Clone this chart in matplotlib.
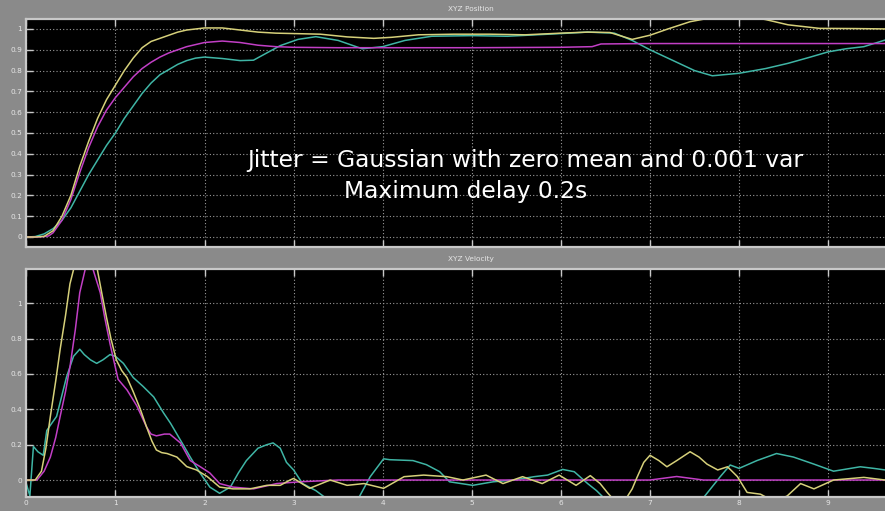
import matplotlib
matplotlib.use("Agg")
import matplotlib.pyplot as plt

# ---------------- data ----------------
pos_yellow_t = [0, 0.1, 0.2, 0.3, 0.4, 0.5, 0.6, 0.7, 0.8, 0.9, 1.0, 1.1, 1.2, 1.3, 1.4, 1.5, 1.6, 1.7, 1.8,
                2.0, 2.2, 2.4, 2.6, 2.8, 3.0, 3.3, 3.6, 3.9, 4.1, 4.4, 4.8, 5.2, 5.6, 6.0, 6.3, 6.55, 6.8,
                7.0, 7.2, 7.45, 7.7, 7.9, 8.1, 8.3, 8.55, 8.9, 9.3, 9.7]
pos_yellow_y = [0, 0.0, 0.003, 0.03, 0.1, 0.2, 0.34, 0.46, 0.57, 0.66, 0.73, 0.8, 0.86, 0.91, 0.94, 0.955, 0.97,
                0.985, 0.995, 1.005, 1.005, 0.995, 0.985, 0.98, 0.978, 0.975, 0.962, 0.955, 0.96, 0.972, 0.975,
                0.975, 0.972, 0.98, 0.985, 0.983, 0.95, 0.97, 1.0, 1.035, 1.055, 1.065, 1.06, 1.045, 1.02,
                1.003, 1.002, 1.0]

pos_magenta_t = [0, 0.15, 0.25, 0.3, 0.4, 0.5, 0.6, 0.7, 0.8, 0.9, 1.0, 1.1, 1.2, 1.3, 1.4, 1.5, 1.6, 1.8,
                 2.0, 2.2, 2.4, 2.6, 2.8, 3.0, 3.5, 4.0, 5.0, 6.0, 6.35, 6.45, 7.0, 8.0, 9.0, 9.7]
pos_magenta_y = [0, 0, 0.005, 0.02, 0.08, 0.18, 0.31, 0.43, 0.53, 0.61, 0.67, 0.72, 0.77, 0.81, 0.84, 0.865,
                 0.885, 0.915, 0.935, 0.942, 0.935, 0.922, 0.915, 0.912, 0.91, 0.91, 0.91, 0.912, 0.915,
                 0.928, 0.93, 0.93, 0.93, 0.93]

pos_cyan_t = [0, 0.1, 0.2, 0.3, 0.4, 0.5, 0.6, 0.7, 0.8, 0.9, 1.0, 1.1, 1.2, 1.3, 1.4, 1.5, 1.6, 1.7, 1.8,
              1.9, 2.0, 2.2, 2.4, 2.55, 2.7, 2.85, 3.05, 3.25, 3.5, 3.77, 4.0, 4.25, 4.55, 5.0, 5.4, 6.0,
              6.3, 6.6, 6.8, 7.0, 7.25, 7.5, 7.7, 8.0, 8.3, 8.55, 8.8, 9.0, 9.2, 9.4, 9.64, 9.7]
pos_cyan_y = [0, 0.002, 0.015, 0.04, 0.08, 0.14, 0.22, 0.3, 0.37, 0.44, 0.5, 0.57, 0.63, 0.69, 0.74, 0.78,
              0.805, 0.83, 0.848, 0.86, 0.865, 0.858, 0.848, 0.85, 0.885, 0.92, 0.95, 0.963, 0.945, 0.905,
              0.915, 0.945, 0.965, 0.968, 0.965, 0.978, 0.985, 0.98, 0.945, 0.9, 0.85, 0.8, 0.775, 0.787,
              0.81, 0.835, 0.865, 0.89, 0.905, 0.915, 0.947, 0.95]

vel_yellow_t = [0, 0.1, 0.17, 0.22, 0.27, 0.33, 0.38, 0.44, 0.49, 0.53, 0.6, 0.7, 0.79, 0.85, 0.9, 0.95, 1.01,
                1.07, 1.13, 1.2, 1.28, 1.35, 1.41, 1.46, 1.52, 1.58, 1.69, 1.8, 1.91, 2.03, 2.1, 2.17, 2.32,
                2.51, 2.7, 2.85, 2.96, 3.0, 3.18, 3.41, 3.6, 3.79, 4.01, 4.24, 4.46, 4.72, 4.9, 5.16, 5.35,
                5.57, 5.79, 5.98, 6.17, 6.33, 6.44, 6.52, 6.59, 6.7, 6.8, 6.85, 6.93, 7.0, 7.1, 7.19, 7.3,
                7.45, 7.55, 7.64, 7.76, 7.87, 7.98, 8.09, 8.24, 8.35, 8.45, 8.54, 8.69, 8.84, 9.06, 9.4,
                9.64, 9.7]
vel_yellow_y = [0, 0, 0.05, 0.18, 0.36, 0.56, 0.74, 0.93, 1.11, 1.19, 1.3, 1.32, 1.21, 1.05, 0.92, 0.8, 0.68,
                0.62, 0.58, 0.5, 0.4, 0.3, 0.22, 0.17, 0.155, 0.15, 0.13, 0.076, 0.057, 0.02, -0.01, -0.04,
                -0.05, -0.05, -0.03, -0.03, 0.0, 0.009, -0.047, 0.0, -0.03, -0.02, -0.047, 0.019, 0.028,
                0.019, 0.0, 0.028, -0.02, 0.019, -0.02, 0.028, -0.03, 0.025, -0.02, -0.07, -0.11, -0.13,
                -0.05, 0.01, 0.1, 0.14, 0.11, 0.075, 0.11, 0.16, 0.13, 0.09, 0.057, 0.075, 0.02, -0.07,
                -0.08, -0.11, -0.11, -0.09, -0.02, -0.05, 0.0, 0.015, 0.0, 0.0]

vel_magenta_t = [0, 0.12, 0.2, 0.27, 0.33, 0.38, 0.44, 0.49, 0.55, 0.6, 0.66, 0.7, 0.75, 0.83, 0.88, 0.94,
                 1.03, 1.13, 1.24, 1.35, 1.4, 1.46, 1.55, 1.61, 1.73, 1.84, 1.95, 2.06, 2.17, 2.32, 2.55,
                 2.81, 3.07, 3.5, 4.0, 5.0, 6.0, 7.0, 7.3, 7.6, 9.7]
vel_magenta_y = [0, 0, 0.05, 0.13, 0.24, 0.36, 0.5, 0.64, 0.85, 1.06, 1.19, 1.23, 1.19, 1.06, 0.92, 0.77,
                 0.57, 0.51, 0.42, 0.3, 0.26, 0.25, 0.26, 0.26, 0.21, 0.11, 0.076, 0.04, -0.02, -0.04, -0.05,
                 -0.02, -0.01, 0.0, 0.0, 0.0, 0.0, 0.0, 0.02, 0.0, 0.0]

vel_cyan_t = [0, 0.04, 0.08, 0.13, 0.19, 0.23, 0.27, 0.34, 0.4, 0.45, 0.53, 0.6, 0.65, 0.72, 0.79, 0.86,
              0.94, 1.0, 1.09, 1.2, 1.31, 1.43, 1.54, 1.62, 1.69, 1.76, 1.84, 1.95, 2.06, 2.17, 2.29, 2.38,
              2.47, 2.6, 2.7, 2.77, 2.85, 2.92, 3.0, 3.1, 3.25, 3.41, 3.55, 3.71, 3.86, 4.01, 4.08, 4.34,
              4.49, 4.64, 4.75, 5.01, 5.24, 5.47, 5.7, 5.85, 6.02, 6.15, 6.3, 6.4, 6.48, 6.7, 7.0, 7.3,
              7.6, 7.79, 7.9, 8.0, 8.2, 8.42, 8.61, 8.84, 9.06, 9.36, 9.51, 9.64, 9.7]
vel_cyan_y = [-0.02, -0.09, 0.19, 0.16, 0.14, 0.28, 0.31, 0.36, 0.48, 0.58, 0.7, 0.74, 0.71, 0.68, 0.66, 0.68,
              0.71, 0.70, 0.66, 0.58, 0.53, 0.47, 0.38, 0.32, 0.26, 0.2, 0.13, 0.04, -0.04, -0.075, -0.04,
              0.04, 0.11, 0.18, 0.2, 0.21, 0.18, 0.1, 0.057, -0.02, -0.06, -0.12, -0.15, -0.12, 0.019, 0.12,
              0.115, 0.11, 0.087, 0.047, -0.01, -0.03, -0.01, 0.0, 0.019, 0.028, 0.06, 0.047, -0.02, -0.06,
              -0.1, -0.25, -0.3, -0.25, -0.1, 0.02, 0.085, 0.066, 0.11, 0.15, 0.13, 0.09, 0.05, 0.075,
              0.066, 0.057, 0.057]

pos_yticks = [0, 0.1, 0.2, 0.3, 0.4, 0.5, 0.6, 0.7, 0.8, 0.9, 1.0]
pos_yticklabels = ["0", "0.1", "0.2", "0.3", "0.4", "0.5", "0.6", "0.7", "0.8", "0.9", "1"]
vel_yticks = [0, 0.2, 0.4, 0.6, 0.8, 1.0]
vel_yticklabels = ["0", "0.2", "0.4", "0.6", "0.8", "1"]
xticks = [0, 1, 2, 3, 4, 5, 6, 7, 8, 9]
xticklabels = ["0", "1", "2", "3", "4", "5", "6", "7", "8", "9"]

title_pos = "XYZ Position"
title_vel = "XYZ Velocity"
note_line1 = "Jitter = Gaussian with zero mean and 0.001 var"
note_line2 = "Maximum delay 0.2s"

# ---------------- style ----------------
W, H = 885, 511
fig = plt.figure(figsize=(W / 100, H / 100), dpi=100, facecolor="#8a8a8a")

c_yellow = "#d6d07a"
c_magenta = "#c23fc6"
c_cyan = "#3fb5a5"
spine_c = "#c8c8c8"
lab_c = "#e6e6e6"

def px_axes(left, top, right, bottom):
    return [left / W, 1 - bottom / H, (right - left) / W, (bottom - top) / H]

x0, xs = 26.3, 89.1
ax1 = fig.add_axes(px_axes(x0, 19, x0 + 10 * xs, 247.5))
ax2 = fig.add_axes(px_axes(x0, 269, x0 + 10 * xs, 497))

for ax in (ax1, ax2):
    ax.set_facecolor("black")
    ax.set_xlim(0, 10)
    ax.set_xticks(xticks)
    for s in ax.spines.values():
        s.set_color(spine_c)
        s.set_linewidth(1.6)
    ax.tick_params(direction="in", colors=spine_c, length=5, width=1.0,
                   top=True, bottom=True, left=True, right=True,
                   labelsize=5.3, labelcolor=lab_c, pad=3)
    ax.grid(True, color="#9a9a9a", linestyle=(0, (1, 2)), linewidth=0.8)

ax1.set_ylim(-0.0505, 1.048)
ax1.set_yticks(pos_yticks)
ax1.set_yticklabels(pos_yticklabels)
ax1.set_xticklabels([])
ax1.tick_params(axis="x", labelbottom=False)

ax2.set_ylim(-0.096, 1.194)
ax2.set_yticks(vel_yticks)
ax2.set_yticklabels(vel_yticklabels)
ax2.set_xticklabels(xticklabels)
ax2.tick_params(axis="x", pad=2)

lw = 1.1
ax1.plot(pos_cyan_t, pos_cyan_y, color=c_cyan, lw=lw)
ax1.plot(pos_magenta_t, pos_magenta_y, color=c_magenta, lw=lw)
ax1.plot(pos_yellow_t, pos_yellow_y, color=c_yellow, lw=lw)

ax2.plot(vel_cyan_t, vel_cyan_y, color=c_cyan, lw=lw)
ax2.plot(vel_magenta_t, vel_magenta_y, color=c_magenta, lw=lw)
ax2.plot(vel_yellow_t, vel_yellow_y, color=c_yellow, lw=lw)

fig.text(471 / W, 1 - 9 / H, title_pos, color=lab_c, fontsize=5.3, ha="center", va="center")
fig.text(471 / W, 1 - 259 / H, title_vel, color=lab_c, fontsize=5.3, ha="center", va="center")

fig.text(247.5 / W, 1 - 166.7 / H, note_line1, color="white", fontsize=16.8,
         family="DejaVu Sans", ha="left", va="baseline")
fig.text(344 / W, 1 - 198.3 / H, note_line2, color="white", fontsize=16.8,
         family="DejaVu Sans", ha="left", va="baseline")

fig.savefig("out.png", dpi=100, facecolor=fig.get_facecolor())
